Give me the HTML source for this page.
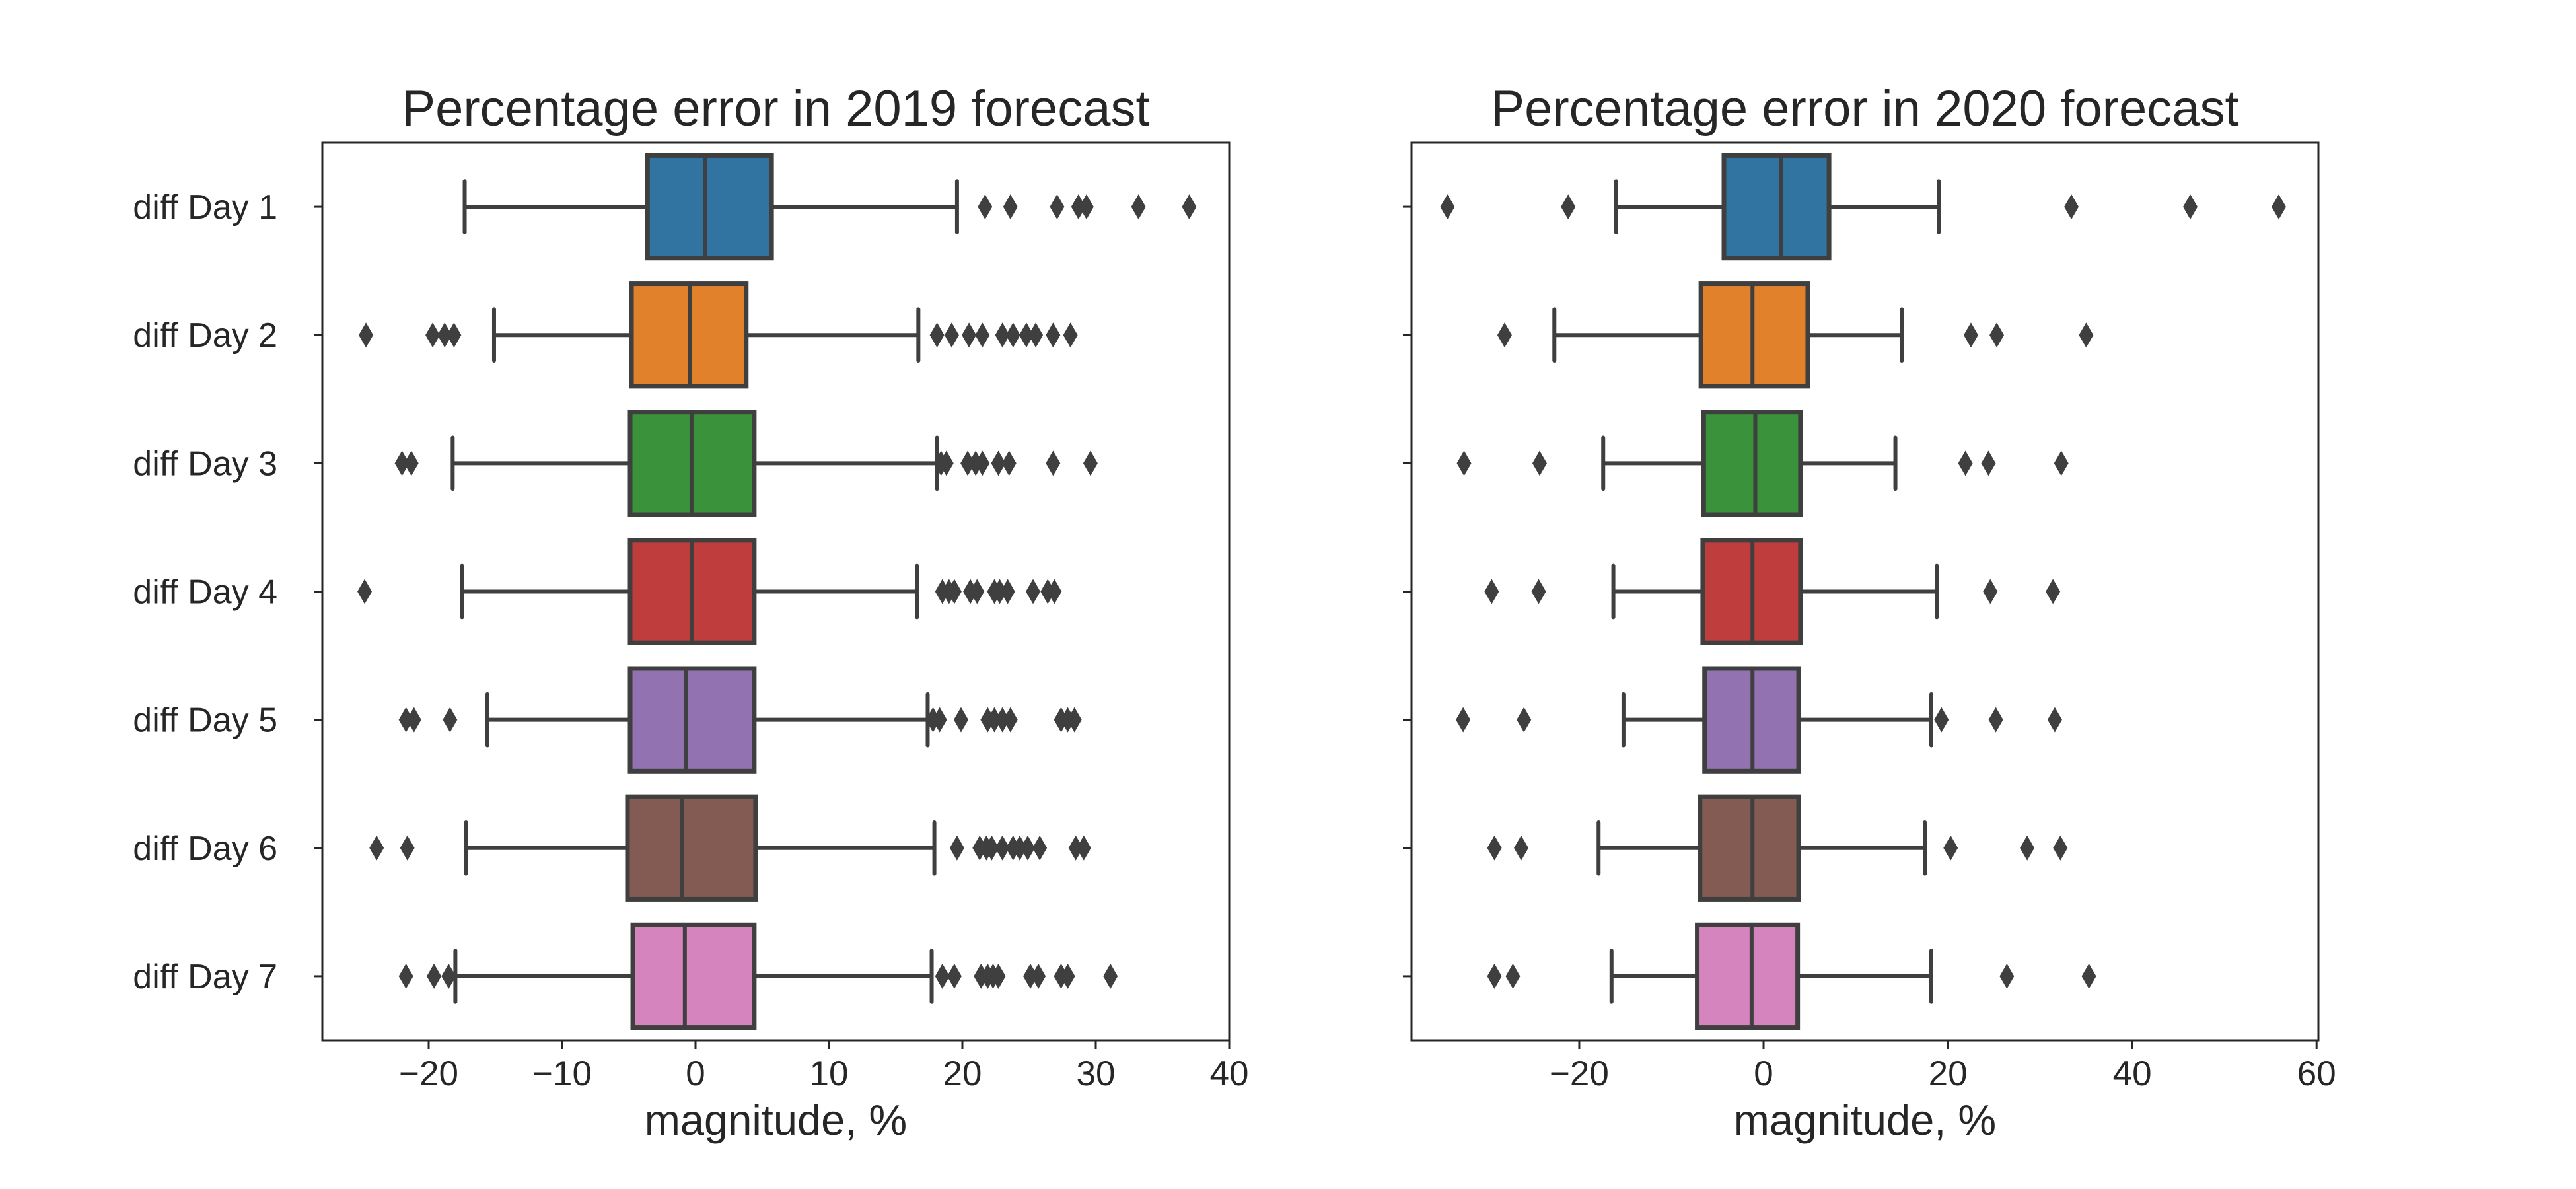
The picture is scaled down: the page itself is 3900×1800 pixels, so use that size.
<!DOCTYPE html>
<html><head><meta charset="utf-8"><style>
html,body{margin:0;padding:0;background:#fff}
svg{display:block}
text{font-family:"Liberation Sans",sans-serif;fill:#262626}
</style></head><body>
<svg id="chart" width="3900" height="1800" viewBox="0 0 3900 1800" xmlns="http://www.w3.org/2000/svg"></svg>
<script>
const categories = ["diff Day 1","diff Day 2","diff Day 3","diff Day 4","diff Day 5","diff Day 6","diff Day 7"];
const colors = ["#3274a1","#e1812c","#3a923a","#c03d3e","#9372b2","#845b53","#d684bd"];
// 2019: [lowWhisker, q1, median, q3, highWhisker]
const stats2019 = [
 [-17.3,-3.6,0.7,5.7,19.6],
 [-15.1,-4.8,-0.4,3.8,16.7],
 [-18.2,-4.9,-0.3,4.4,18.1],
 [-17.5,-4.9,-0.3,4.4,16.6],
 [-15.6,-4.9,-0.7,4.4,17.4],
 [-17.2,-5.1,-1.0,4.5,17.9],
 [-18.0,-4.7,-0.8,4.4,17.7]
];
const outliers2019 = [
 [21.7,23.6,27.1,28.7,29.3,33.2,37.0],
 [-24.7,-19.7,-18.8,-18.1,18.1,19.2,20.5,21.5,23.0,23.8,24.8,25.5,26.8,28.1],
 [-22.0,-21.3,18.4,18.8,20.4,21.0,21.5,22.7,23.5,26.8,29.6],
 [-24.8,18.5,19.0,19.4,20.6,21.1,22.4,22.8,23.4,25.3,26.4,26.9],
 [-21.7,-21.1,-18.4,17.8,18.3,19.9,21.9,22.4,23.0,23.6,27.4,27.9,28.4],
 [-23.9,-21.6,19.6,21.3,21.8,22.2,23.0,23.8,24.3,24.9,25.8,28.5,29.1],
 [-21.7,-19.6,-18.5,18.5,19.4,21.4,21.9,22.3,22.7,25.1,25.7,27.4,27.9,31.1]
];
const stats2020 = [
 [-16.0,-4.3,1.9,7.1,19.0],
 [-22.7,-6.8,-1.2,4.8,15.0],
 [-17.4,-6.5,-0.9,4.0,14.3],
 [-16.3,-6.6,-1.2,4.0,18.8],
 [-15.2,-6.4,-1.2,3.8,18.2],
 [-17.9,-6.9,-1.2,3.8,17.5],
 [-16.5,-7.2,-1.3,3.7,18.2]
];
const outliers2020 = [
 [-34.3,-21.2,33.4,46.3,55.9],
 [-28.1,22.5,25.3,35.0],
 [-32.5,-24.3,21.9,24.4,32.3],
 [-29.5,-24.4,24.6,31.4],
 [-32.6,-26.0,19.3,25.2,31.6],
 [-29.2,-26.3,20.3,28.6,32.2],
 [-29.2,-27.2,26.4,35.3]
];
const ticks2019 = [-20,-10,0,10,20,30,40];
const ticks2020 = [-20,0,20,40,60];
const titles = ["Percentage error in 2019 forecast","Percentage error in 2020 forecast"];

const NS="http://www.w3.org/2000/svg";
const svg=document.getElementById('chart');
function mk(tag,attrs,parent){const e=document.createElementNS(NS,tag);for(const k in attrs)e.setAttribute(k,attrs[k]);(parent||svg).appendChild(e);return e;}

function panel(idx,x0,x1,dmin,dmax,stats,outs,ticks,showLabels){
  const y0=216,y1=1575;
  const g=mk('g',{});
  
  
  const sx=v=>x0+(v-dmin)/(dmax-dmin)*(x1-x0);
  const band=(y1-y0)/categories.length;
  const sy=i=>y0+band*(i+0.5);
  const bh=band*0.8;
  categories.forEach((c,i)=>{
    const s=stats[i],cy=sy(i);
    const bg=mk('g',{},g);
    
    
    mk('line',{x1:sx(s[0]),x2:sx(s[1]),y1:cy,y2:cy,stroke:'#3f3f3f','stroke-width':6},bg);
    mk('line',{x1:sx(s[3]),x2:sx(s[4]),y1:cy,y2:cy,stroke:'#3f3f3f','stroke-width':6},bg);
    mk('line',{x1:sx(s[0]),x2:sx(s[0]),y1:cy-bh/4,y2:cy+bh/4,stroke:'#3f3f3f','stroke-width':6,'stroke-linecap':'round'},bg);
    mk('line',{x1:sx(s[4]),x2:sx(s[4]),y1:cy-bh/4,y2:cy+bh/4,stroke:'#3f3f3f','stroke-width':6,'stroke-linecap':'round'},bg);
    mk('rect',{x:sx(s[1]),y:cy-bh/2,width:sx(s[3])-sx(s[1]),height:bh,fill:colors[i],stroke:'#3f3f3f','stroke-width':7},bg);
    mk('line',{x1:sx(s[2]),x2:sx(s[2]),y1:cy-bh/2,y2:cy+bh/2,stroke:'#3f3f3f','stroke-width':6},bg);
    outs[i].forEach(v=>{
      const x=sx(v);
      const d=mk('path',{d:`M${x} ${cy-19}L${x+11} ${cy}L${x} ${cy+19}L${x-11} ${cy}Z`,fill:'#3f3f3f'},bg);
      
      
    });
    mk('line',{x1:x0-13,x2:x0,y1:cy,y2:cy,stroke:'#262626','stroke-width':3},g);
    if(showLabels){
      const t=mk('text',{x:420,y:cy+18,'text-anchor':'end','font-size':52},g);
      t.textContent=c;
      
      
    }
  });
  const fr=mk('rect',{x:x0,y:y0,width:x1-x0,height:y1-y0,fill:'none',stroke:'#262626','stroke-width':3},g);
  
  
  ticks.forEach(t=>{
    const x=sx(t);
    mk('line',{x1:x,x2:x,y1:y1,y2:y1+13,stroke:'#262626','stroke-width':3},g);
    const tl=mk('text',{x:x,y:1643,'text-anchor':'middle','font-size':53},g);
    tl.textContent=t<0?'\u2212'+(-t):String(t);
    
    
  });
  const xl=mk('text',{x:(x0+x1)/2,y:1718,'text-anchor':'middle','font-size':65},g);
  xl.textContent='magnitude, %';
  
  
  const ti=mk('text',{x:(x0+x1)/2,y:190,'text-anchor':'middle','font-size':76},g);
  ti.textContent=titles[idx];
  
  
}
panel(0,488,1861,-27.97,40.0,stats2019,outliers2019,ticks2019,true);
panel(1,2137,3510,-38.2,60.2,stats2020,outliers2020,ticks2020,false);
</script>
</body></html>
